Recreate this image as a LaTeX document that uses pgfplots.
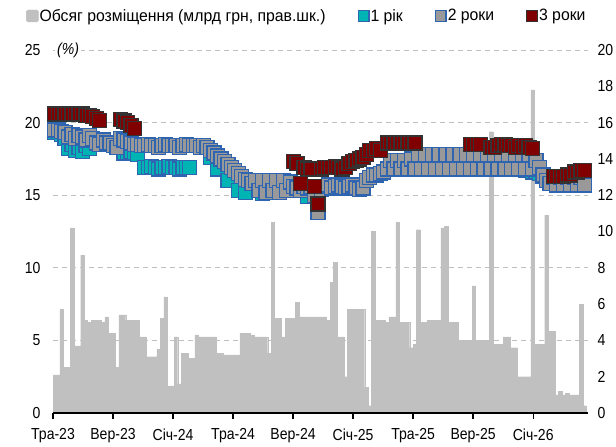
\documentclass[border=0pt]{standalone}
\usepackage{fontspec}
\setmainfont{Liberation Sans}[FakeStretch=0.88]
\newfontfamily\legfont{Liberation Sans}[FakeStretch=0.96]
\usepackage{pgfplots}
\usepackage{pgfplotstable}
\pgfplotsset{compat=1.18}
\definecolor{barc}{RGB}{192,192,192}
\definecolor{tealc}{RGB}{0,180,180}
\definecolor{edgeb}{RGB}{46,100,176}
\definecolor{grayc}{RGB}{153,153,153}
\definecolor{redc}{RGB}{128,0,0}
\definecolor{edged}{RGB}{51,51,51}
\definecolor{gridc}{RGB}{191,191,191}
\newcommand\fsz{\fontsize{16}{19}\selectfont}

\pgfplotstableread{
w v
0 2.1
1 2.1
2 5.7
3 2.5
4 2.5
5 10.2
6 3.7
7 3.7
8 8.7
9 5.1
10 5.0
11 5.1
12 5.1
13 5.1
14 5.0
15 5.3
16 4.4
17 4.4
18 2.5
19 5.4
20 5.4
21 5.1
22 5.1
23 5.1
24 5.1
25 4.2
26 4.2
27 3.1
28 3.1
29 3.1
30 3.5
31 5.2
32 6.4
33 1.5
34 1.5
35 4.2
36 1.6
37 3.3
38 3.3
39 3.0
40 3.0
41 4.3
42 4.2
43 4.2
44 4.2
45 4.2
46 4.2
47 3.3
48 3.3
49 3.2
50 3.2
51 3.2
52 3.2
53 3.2
54 4.4
55 4.4
56 4.4
57 4.3
58 4.2
59 4.2
60 4.2
61 4.2
62 3.3
63 10.5
64 5.2
65 5.2
66 4.2
67 5.2
68 5.2
69 5.2
70 6.1
71 5.3
72 5.3
73 5.3
74 5.3
75 5.3
76 5.3
77 5.3
78 5.3
79 5.1
80 7.2
81 8.3
82 4.2
83 4.2
84 2.0
85 5.7
86 5.7
87 5.7
88 5.7
89 5.7
90 1.4
91 0.4
92 10.0
93 5.1
94 5.1
95 5.1
96 5.0
97 5.3
98 5.3
99 10.5
100 5.0
101 5.0
102 5.0
103 3.6
104 3.8
105 10.1
106 5.0
107 5.0
108 5.1
109 5.1
110 5.1
111 5.1
112 10.2
113 10.3
114 5.0
115 5.0
116 5.0
117 4.0
118 4.0
119 4.0
120 4.0
121 7.0
122 4.0
123 4.0
124 4.0
125 4.0
126 15.5
127 3.8
128 3.8
129 3.8
130 4.2
131 4.2
132 3.6
133 3.6
134 2.0
135 2.0
136 2.0
137 2.0
138 17.8
139 3.8
140 3.8
141 3.8
142 10.9
143 4.5
144 4.5
145 1.0
146 1.2
147 1.0
148 1.1
149 1.0
150 1.0
151 1.0
152 6.0
153 0.4
}\vol

\pgfplotstableread{
w v
0 19.3
1 19.3
2 19.2
3 18.9
4 18.2
5 18.5
6 18.1
7 18.3
8 18.0
9 18.4
10 18.2
20 17.9
21 17.9
22 18.0
23 17.9
24 17.8
26 16.9
27 16.9
28 17.0
29 16.9
30 16.8
31 16.9
32 16.9
33 17.0
34 16.9
35 16.9
36 16.8
37 16.9
38 16.9
39 16.9
45 17.6
47 16.8
50 16.0
53 15.3
55 15.2
60 15.1
73 14.9
136 16.7
137 16.7
138 16.6
139 16.6
140 16.5
141 16.3
}\yra

\pgfplotstableread{
w v
0 19.5
1 19.5
2 19.4
3 19.3
4 19.0
5 19.2
6 18.9
7 19.1
8 19.0
9 18.8
10 19.1
11 18.9
12 18.6
13 18.5
14 18.8
15 18.6
16 18.6
17 18.4
18 18.3
19 18.9
20 18.8
21 18.7
22 18.6
23 18.5
24 18.5
25 18.4
26 18.4
27 18.5
28 18.4
29 18.4
30 18.3
31 18.4
32 18.5
33 18.4
34 18.4
35 18.4
36 18.3
37 18.4
38 18.5
39 18.4
40 18.4
41 18.4
42 18.3
43 18.4
44 18.3
45 18.1
46 17.9
47 17.7
48 17.5
49 17.3
50 17.1
51 16.9
52 16.7
53 16.5
54 16.3
55 16.1
56 16.0
57 15.8
58 16.0
59 15.3
60 16.0
61 15.2
62 16.0
63 15.3
64 16.0
65 15.2
66 16.0
67 15.3
68 15.9
69 15.6
70 15.5
71 15.3
72 15.6
73 15.5
74 15.6
75 15.0
76 13.8
77 15.4
78 15.6
79 15.7
80 15.5
81 15.6
82 15.7
83 15.6
84 15.5
85 15.6
86 15.7
87 15.5
88 15.4
89 15.5
90 16.0
91 16.2
92 16.4
93 16.4
94 16.5
95 16.6
96 16.8
97 17.4
98 16.8
99 17.4
100 16.8
101 17.4
102 16.8
103 17.5
104 16.8
105 17.8
106 16.8
107 17.8
108 16.8
109 17.8
110 16.8
111 17.8
112 16.8
113 17.8
114 16.8
115 17.8
116 16.8
117 17.8
118 16.8
119 17.8
120 16.8
121 17.8
122 16.8
123 17.8
124 16.8
125 17.8
126 16.8
127 17.8
128 16.8
129 17.8
130 16.8
131 17.8
132 16.8
133 17.8
134 16.8
135 17.8
136 16.8
137 17.8
138 16.8
139 17.4
140 16.9
141 16.4
142 16.0
143 15.8
144 16.2
145 15.7
146 16.2
147 15.7
148 16.2
149 15.7
150 16.2
151 15.7
152 16.2
153 15.7
}\yrb

\pgfplotstableread{
w v
0 20.6
1 20.6
2 20.6
3 20.6
4 20.6
5 20.6
6 20.6
7 20.6
8 20.6
9 20.5
10 20.5
11 20.4
12 20.3
13 20.15
19 20.2
20 20.1
21 20.0
22 19.8
23 19.6
69 17.3
70 17.2
71 15.8
72 16.9
73 16.8
74 16.8
75 15.6
76 14.4
77 16.8
78 16.9
79 16.9
80 16.9
81 17.0
82 16.9
83 16.8
84 16.9
85 17.2
86 17.3
87 17.4
88 17.5
89 17.6
90 17.8
91 18.1
92 18.1
93 18.2
94 18.1
96 18.6
97 18.6
98 18.6
99 18.6
100 18.6
101 18.6
102 18.6
103 18.6
104 18.6
120 18.5
121 18.5
122 18.5
123 18.5
126 18.3
127 18.3
128 18.4
129 18.5
130 18.5
131 18.4
132 18.4
133 18.3
134 18.4
135 18.3
136 18.4
137 18.3
138 18.2
144 16.3
145 16.3
146 16.3
147 16.3
148 16.4
149 16.4
150 16.6
151 16.6
152 16.7
153 16.7
}\yrc

\begin{document}
\begin{tikzpicture}
\pgfplotsset{
  common/.style={
    scale only axis, width=535bp, height=363bp,
    xmin=-0.5, xmax=154,
    /pgf/number format/assume math mode=true,
    tick label style={font=\fsz, text=black},
  }
}
% right axis: bars
\begin{axis}[common,
  ymin=0, ymax=20,
  axis x line=none,
  axis y line*=right,
  y axis line style={draw=none},
  ytick={0,2,...,20},
  major tick length=0pt,
  yticklabel style={xshift=6bp},
  extra y ticks={4,8,12,16,20},
  extra y tick labels={},
  extra y tick style={grid=major, major tick length=0pt},
  major grid style={draw=gridc, line width=0.9bp, dash pattern=on 5bp off 4bp},
]
\addplot[ybar, bar width=1, fill=barc, draw=barc, line width=0.3bp] table[x=w,y=v]{\vol};
\end{axis}
% left axis: yields
\begin{axis}[common,
  ymin=0, ymax=25,
  clip=false,
  axis x line*=bottom,
  axis y line*=left,
  y axis line style={draw=none},
  x axis line style={line width=1.6bp, black},
  ytick={0,5,...,25},
  ytick style={draw=none},
  yticklabel style={xshift=-3bp},
  xtick={-0.5,16.83,34.17,51.5,68.83,86.17,103.5,120.83,138.17},
  xticklabels={Тра-23,Вер-23,Січ-24,Тра-24,Вер-24,Січ-25,Тра-25,Вер-25,Січ-26},
  xtick style={draw=black, line width=1.3bp},
  tick align=outside,
  x tick label style={yshift=-6bp},
  major tick length=6bp,
  legend columns=-1,
  legend style={draw=none, fill=none, font=\legfont\fontsize{16.5}{19}\selectfont,
    at={(axis description cs:0,1)}, anchor=north west, xshift=-30bp, yshift=44bp,
    nodes={inner sep=1bp},
    /tikz/every even column/.append style={column sep=31bp}},
]
\addlegendimage{legend image code/.code={\fill[barc,rounded corners=1.5bp] (0bp,-6bp) rectangle (12bp,6bp);}}
\addlegendentry{Обсяг розміщення (млрд грн, прав.шк.)}
\addlegendimage{legend image code/.code={\draw[fill=tealc,draw=edgeb,line width=1.3bp] (0.7bp,-5.3bp) rectangle (11.3bp,5.3bp);}}
\addlegendentry{1 рік}
\addlegendimage{legend image code/.code={\draw[fill=grayc,draw=edgeb,line width=1.3bp] (0.7bp,-5.3bp) rectangle (11.3bp,5.3bp);}}
\addlegendentry{2 роки}
\addlegendimage{legend image code/.code={\draw[fill=redc,draw=edged,line width=1.3bp] (0.7bp,-5.3bp) rectangle (11.3bp,5.3bp);}}
\addlegendentry{3 роки}

\addplot[forget plot, only marks, mark=square*, mark size=7bp,
  mark options={fill=tealc, draw=edgeb, line width=1.3bp}] table[x=w,y=v]{\yra};
\addplot[forget plot, only marks, mark=square*, mark size=7bp,
  mark options={fill=grayc, draw=edgeb, line width=1.3bp}] table[x=w,y=v]{\yrb};
\addplot[forget plot, only marks, mark=square*, mark size=7bp,
  mark options={fill=redc, draw=edged, line width=1.3bp}] table[x=w,y=v]{\yrc};

\node[anchor=west, fill=white, inner sep=2bp, font=\fsz\itshape] at ([xshift=2bp]axis description cs:0,1) {(\%)};
\end{axis}
\pgfresetboundingbox
\path ([xshift=-53bp,yshift=-34bp]current axis.south west) rectangle ([xshift=28bp,yshift=50bp]current axis.north east);
\end{tikzpicture}
\end{document}
